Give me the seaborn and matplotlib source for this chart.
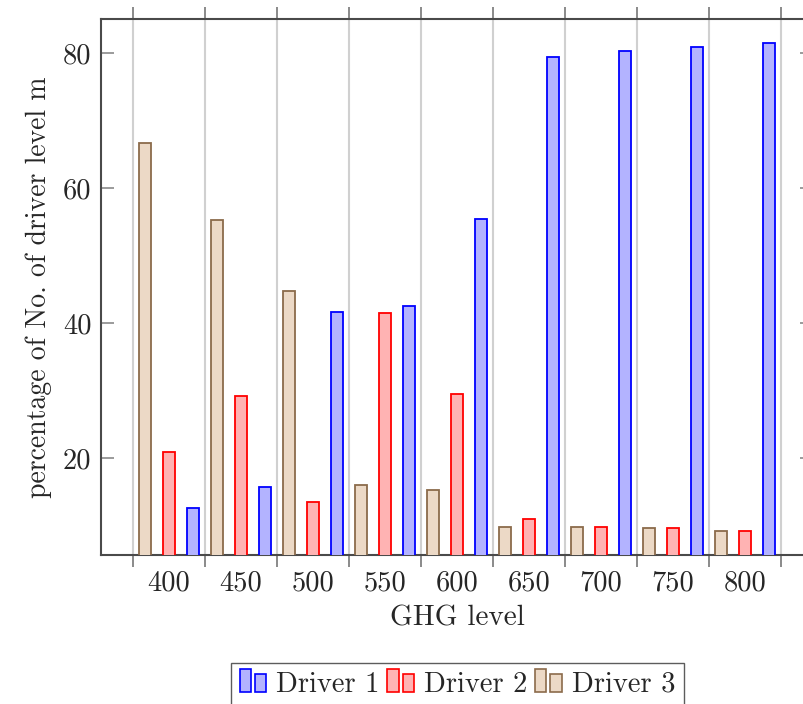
import numpy as np
import pandas as pd
import matplotlib
matplotlib.use('Agg')
import matplotlib.pyplot as plt
import seaborn as sns
from matplotlib.patches import Rectangle, Patch
from matplotlib.legend_handler import HandlerBase

# ---- data ----
ghg_levels = ['400', '450', '500', '550', '600', '650', '700', '750', '800']
driver1 = [12.6, 15.7, 41.7, 42.6, 55.4, 79.4, 80.4, 80.9, 81.5]
driver2 = [20.9, 29.2, 13.6, 41.5, 29.5, 11.0, 9.8, 9.7, 9.3]
driver3 = [66.7, 55.3, 44.8, 16.0, 15.3, 9.8, 9.8, 9.7, 9.3]
series_names = ['Driver 1', 'Driver 2', 'Driver 3']
y_ticks = [20, 40, 60, 80]

fill = {'Driver 1': '#b3b3ff', 'Driver 2': '#ffb3b3', 'Driver 3': '#ecd9c6'}
edge = {'Driver 1': '#0000ff', 'Driver 2': '#ff0000', 'Driver 3': '#8b6b4b'}

df = pd.DataFrame({
    'GHG level': ghg_levels * 3,
    'value': driver1 + driver2 + driver3,
    'Driver': [n for n in series_names for _ in ghg_levels],
})

sns.set_style('white')
plt.rcParams['font.family'] = ['cmr10', 'DejaVu Serif']
plt.rcParams['axes.formatter.use_mathtext'] = True
FS = 20.5

fig = plt.figure(figsize=(8.04, 7.04), dpi=100)
ax = fig.add_axes([101 / 804, 1 - 555 / 704, 712 / 804, 536 / 704])

hue_order = ['Driver 3', 'Driver 2', 'Driver 1']
sns.barplot(data=df, x='GHG level', y='value', hue='Driver', hue_order=hue_order,
            order=ghg_levels, palette=fill, width=1.0, gap=0.47, errorbar=None,
            legend=False, ax=ax, linewidth=1.3, saturation=1)
for cont, name in zip(ax.containers, hue_order):
    for p in cont:
        p.set_edgecolor(edge[name])
        p.set_zorder(3)

n = len(ghg_levels)
ax.set_xlim(-0.944, n - 1 + 0.944)
ax.set_ylim(5.69, 85.1)
ax.set_axisbelow(True)

ax.set_xticks(range(n))
ax.set_xticklabels(ghg_levels, fontsize=FS)
ax.set_xticks(np.arange(-0.5, n, 1.0), minor=True)
ax.tick_params(axis='x', which='major', length=0, pad=11)
ax.tick_params(axis='x', which='minor', direction='out', length=8.5, width=1.4,
               color='#8a8a8a', top=True, bottom=True)
ax.grid(which='minor', axis='x', color='#d0d0d0', linewidth=1.5)
ax.grid(which='major', axis='both', visible=False)

ax.set_yticks(y_ticks)
ax.set_yticklabels([str(v) for v in y_ticks], fontsize=FS)
ax.tick_params(axis='y', which='major', direction='in', length=9.4, width=1.2,
               color='#8a8a8a', left=True, right=True, pad=7)

for s in ax.spines.values():
    s.set_color('#4a4a4a')
    s.set_linewidth(1.5)
    s.set_visible(True)

ax.set_xlabel('GHG level', fontsize=21, labelpad=6)
ax.set_ylabel('percentage of No. of driver level m', fontsize=20, labelpad=8)


class TwoBarHandler(HandlerBase):
    def create_artists(self, legend, orig_handle, xdescent, ydescent, width,
                       height, fontsize, trans):
        fc = orig_handle.get_facecolor()
        ec = orig_handle.get_edgecolor()
        x0, y0 = -xdescent, -ydescent
        r1 = Rectangle((x0, y0), 0.42 * width, 1.13 * height, facecolor=fc,
                       edgecolor=ec, linewidth=1.2, transform=trans)
        r2 = Rectangle((x0 + 0.57 * width, y0), 0.43 * width, 0.87 * height,
                       facecolor=fc, edgecolor=ec, linewidth=1.2, transform=trans)
        return [r1, r2]


handles = [Patch(facecolor=fill[nm], edgecolor=edge[nm]) for nm in series_names]
leg = fig.legend(handles, series_names, loc='upper center',
                 bbox_to_anchor=(457.5 / 804, 1 - 663 / 704), ncol=3,
                 fontsize=20.6, frameon=True, fancybox=False, borderaxespad=0,
                 handlelength=0.93, handleheight=0.7, handletextpad=0.35,
                 columnspacing=0.27, borderpad=0.3,
                 handler_map={Patch: TwoBarHandler()})
leg.get_frame().set_edgecolor('#333333')
leg.get_frame().set_linewidth(1.0)

fig.savefig('out.png', dpi=100)
